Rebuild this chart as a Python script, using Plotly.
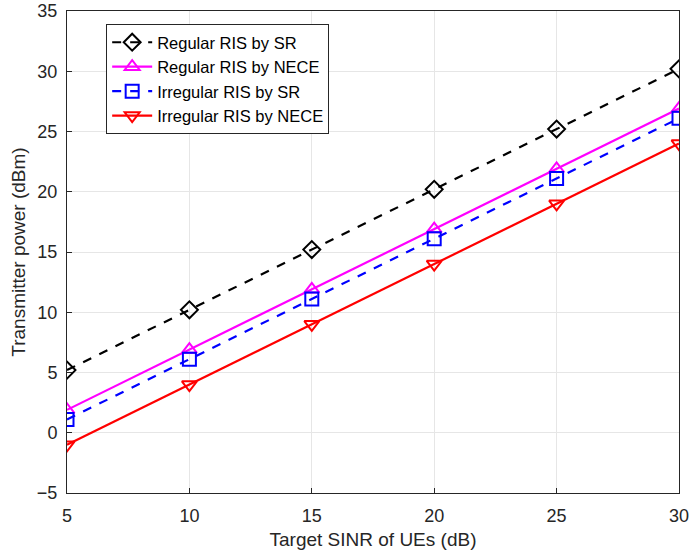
import plotly.graph_objects as go

sinr = [5, 10, 15, 20, 25, 30]
regular_sr = [5.2, 10.2, 15.2, 20.2, 25.2, 30.2]
regular_nece = [1.9, 6.9, 11.9, 16.9, 21.9, 26.9]
irregular_sr = [1.1, 6.1, 11.1, 16.1, 21.1, 26.1]
irregular_nece = [-1.0, 4.0, 9.0, 14.0, 19.0, 24.0]

series = [
    ("Regular RIS by SR", regular_sr, "#000000", "dash", "diamond-open"),
    ("Regular RIS by NECE", regular_nece, "#FF00FF", "solid", "triangle-up-open"),
    ("Irregular RIS by SR", irregular_sr, "#0000FF", "dash", "square-open"),
    ("Irregular RIS by NECE", irregular_nece, "#FF0000", "solid", "triangle-down-open"),
]

fig = go.Figure()
for name, ys, color, dash, sym in series:
    fig.add_trace(go.Scatter(
        x=sinr, y=ys, name=name, mode="lines+markers",
        line=dict(color=color, width=2.2, dash=dash),
        marker=dict(symbol=sym, size=13, color=color, line=dict(width=2, color=color)),
    ))

axis_common = dict(
    showline=True, linecolor="#262626", linewidth=1, mirror=True,
    showgrid=True, gridcolor="#e6e6e6", gridwidth=1,
    ticks="inside", ticklen=5, tickcolor="#262626",
    tickfont=dict(family="Liberation Sans, Arial", size=18, color="#262626"),
    zeroline=False, automargin=False, ticklabeloverflow="allow",
)

fig.update_layout(
    width=690, height=552,
    margin=dict(l=67, r=11, t=11, b=59),
    paper_bgcolor="white", plot_bgcolor="white",
    font=dict(family="Liberation Sans, Arial", color="#262626"),
    xaxis=dict(range=[5, 30], tickvals=[5, 10, 15, 20, 25, 30],
               ticklabelstandoff=6,
               title=dict(text="Target SINR of UEs (dB)", font=dict(size=19), standoff=8),
               **axis_common),
    yaxis=dict(range=[-5, 35], tickvals=[-5, 0, 5, 10, 15, 20, 25, 30, 35],
               ticklabelstandoff=5,
               title=dict(text="Transmitter power (dBm)", font=dict(size=19), standoff=6),
               **axis_common),
    legend=dict(x=0.064, y=0.973, xanchor="left", yanchor="top",
                bgcolor="white", bordercolor="#262626", borderwidth=1,
                font=dict(size=16.5, color="#000000"), tracegroupgap=0,
                itemwidth=40),
    showlegend=True,
)

# remove the page's default body margin so the 690x552 figure fills the window exactly
fig.write_html("out.html", config={"displayModeBar": False},
               post_script="document.body.style.margin='0';")
